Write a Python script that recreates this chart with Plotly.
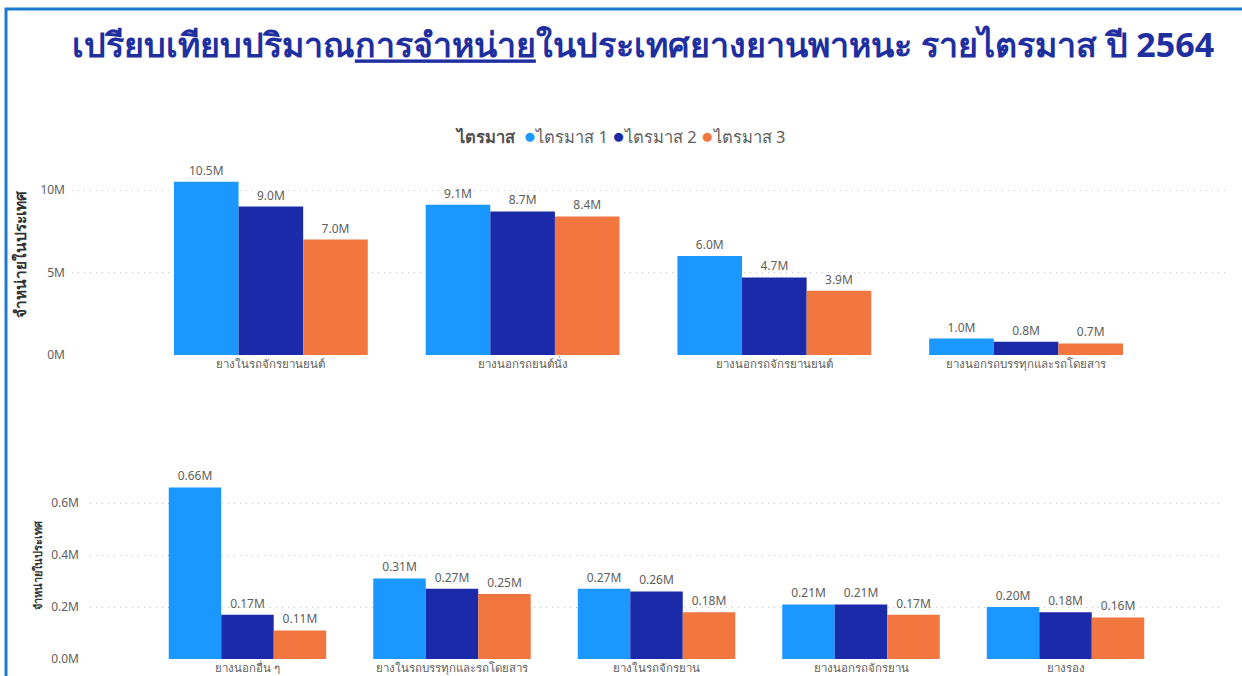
import plotly.graph_objects as go

W, H = 1242, 676
H_EFF = 668

series_names = ["ไตรมาส 1", "ไตรมาส 2", "ไตรมาส 3"]
series_colors = ["#1B98FF", "#1A2AA8", "#F27640"]

top_categories = ["ยางในรถจักรยานยนต์", "ยางนอกรถยนต์นั่ง", "ยางนอกรถจักรยานยนต์", "ยางนอกรถบรรทุกและรถโดยสาร"]
top_q1 = [10.5, 9.1, 6.0, 1.0]
top_q2 = [9.0, 8.7, 4.7, 0.8]
top_q3 = [7.0, 8.4, 3.9, 0.7]

bottom_categories = ["ยางนอกอื่น ๆ", "ยางในรถบรรทุกและรถโดยสาร", "ยางในรถจักรยาน", "ยางนอกรถจักรยาน", "ยางรอง"]
bottom_q1 = [0.66, 0.31, 0.27, 0.21, 0.20]
bottom_q2 = [0.17, 0.27, 0.26, 0.21, 0.18]
bottom_q3 = [0.11, 0.25, 0.18, 0.17, 0.16]

title_text = "เปรียบเทียบปริมาณ<u>การจำหน่าย</u>ในประเทศยางยานพาหนะ รายไตรมาส ปี 2564"
legend_title = "ไตรมาส"
y_title = "จำหน่ายในประเทศ"

FONT = "Noto Sans, Tahoma, Leelawadee UI, sans-serif"
GRAY = "#605E5C"

def px_x(p):
    return p / W

def px_y(p):
    return 1 - p / H_EFF

fig = go.Figure()

top_vals = [top_q1, top_q2, top_q3]
bot_vals = [bottom_q1, bottom_q2, bottom_q3]

for name, color, vals in zip(series_names, series_colors, top_vals):
    fig.add_trace(go.Bar(
        x=top_categories, y=vals, name=name, marker=dict(color=color, line=dict(width=0)),
        texttemplate="%{y:.1f}M", textposition="outside", cliponaxis=False,
        textfont=dict(color=GRAY, size=12, family=FONT),
        xaxis="x", yaxis="y", showlegend=False, hoverinfo="skip"))

for name, color, vals in zip(series_names, series_colors, bot_vals):
    fig.add_trace(go.Bar(
        x=bottom_categories, y=vals, name=name, marker=dict(color=color, line=dict(width=0)),
        texttemplate="%{y:.2f}M", textposition="outside", cliponaxis=False,
        textfont=dict(color=GRAY, size=12, family=FONT),
        xaxis="x2", yaxis="y2", showlegend=False, hoverinfo="skip"))

legend_parts = ["<b><span style='color:#505050'>" + legend_title + "</span></b> "]
for name, color in zip(series_names, series_colors):
    legend_parts.append("<span style='color:" + color + ";font-size:21px'>●</span>" + name)
legend_text = " ".join(legend_parts)

grid = dict(showgrid=True, gridcolor="#C4C4C4", griddash="1px,5px", gridwidth=1, zeroline=False,
            tickfont=dict(color=GRAY, size=12, family=FONT), showline=False, ticks="")

fig.update_layout(
    width=W, height=H,
    margin=dict(l=0, r=0, t=0, b=0),
    paper_bgcolor="white", plot_bgcolor="white",
    font=dict(family=FONT, color=GRAY),
    barmode="group", bargap=0.23, bargroupgap=0,
    showlegend=False,
    title=dict(text="<b>" + title_text + "</b>", x=px_x(643), xanchor="center",
               y=px_y(45), yanchor="middle",
               font=dict(size=34, color="#1F2FA0", family=FONT)),
    xaxis=dict(domain=[px_x(72), px_x(1230)], anchor="y", range=[-0.79, 3.81],
               showgrid=False, zeroline=False, ticks="", showline=False,
               tickfont=dict(color=GRAY, size=11.5, family=FONT)),
    yaxis=dict(domain=[px_y(355), px_y(155)], anchor="x", range=[0, 200 / 16.5],
               dtick=5, ticksuffix="M", ticklabelstandoff=6, **grid),
    xaxis2=dict(domain=[px_x(90), px_x(1223)], anchor="y2", range=[-0.77, 4.77],
                showgrid=False, zeroline=False, ticks="", showline=False,
                tickfont=dict(color=GRAY, size=11.5, family=FONT)),
    yaxis2=dict(domain=[px_y(659), px_y(465)], anchor="x2", range=[0, 194 / 260],
                dtick=0.2, tickformat=".1f", ticksuffix="M", ticklabelstandoff=10, **grid),
    shapes=[dict(type="rect", xref="paper", yref="paper",
                 x0=px_x(6), x1=1.05, y0=-0.05, y1=px_y(9),
                 line=dict(color="#1C7BD0", width=3), fillcolor="rgba(0,0,0,0)", layer="above")],
    annotations=[
        dict(text=legend_text, xref="paper", yref="paper", x=px_x(620), y=px_y(135),
             showarrow=False, xanchor="center", yanchor="middle",
             font=dict(size=16.5, color=GRAY, family=FONT)),
        dict(text="<b>" + y_title + "</b>", xref="paper", yref="paper", x=px_x(20), y=px_y(254),
             textangle=-90, showarrow=False, xanchor="center", yanchor="middle",
             font=dict(size=15.5, color="#333333", family=FONT)),
        dict(text="<b>" + y_title + "</b>", xref="paper", yref="paper", x=px_x(37), y=px_y(565),
             textangle=-90, showarrow=False, xanchor="center", yanchor="middle",
             font=dict(size=11, color="#333333", family=FONT)),
    ],
)

fig.write_html("out.html", config={"displayModeBar": False},
               post_script="document.body.style.margin='0';")
